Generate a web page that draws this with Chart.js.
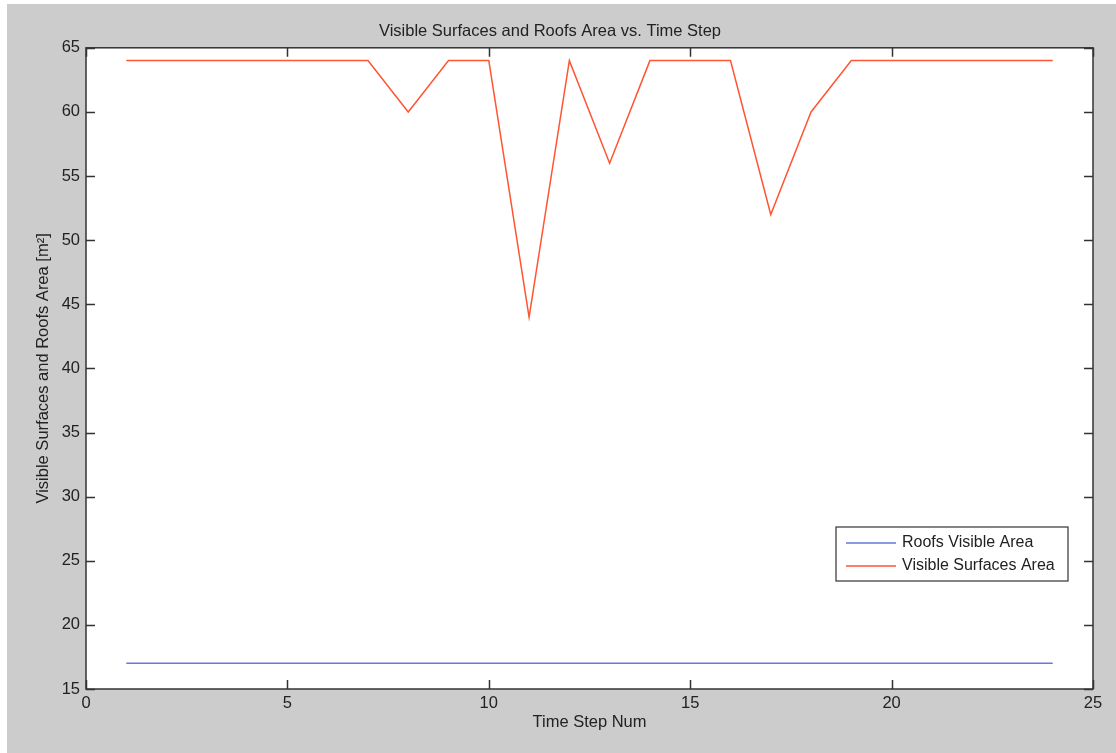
<!DOCTYPE html>
<html>
<head>
<meta charset="utf-8">
<script src="https://cdn.jsdelivr.net/npm/chart.js@4.4.0/dist/chart.umd.min.js"></script>
<style>
  html, body { margin: 0; padding: 0; background: #fff; }
  #wrap { position: absolute; left: 7px; top: 4px; width: 1109px; height: 749px; background: #cccccc; }
</style>
</head>
<body>
<div id="wrap"><canvas id="myChart" width="1109" height="749"></canvas></div>
<script>
// time steps and the two series
const timeSteps = [1, 2, 3, 4, 5, 6, 7, 8, 9, 10, 11, 12, 13, 14, 15, 16, 17, 18, 19, 20, 21, 22, 23, 24];
const roofsArea = [17, 17, 17, 17, 17, 17, 17, 17, 17, 17, 17, 17, 17, 17, 17, 17, 17, 17, 17, 17, 17, 17, 17, 17];
const surfacesArea = [64, 64, 64, 64, 64, 64, 64, 60, 64, 64, 44, 64, 56, 64, 64, 64, 52, 60, 64, 64, 64, 64, 64, 64];
const xTicks = [0, 5, 10, 15, 20, 25];
const yTicks = [15, 20, 25, 30, 35, 40, 45, 50, 55, 60, 65];

const FONT = '"Liberation Sans", Arial, sans-serif';
const FS = 16.5;
const ctx = document.getElementById('myChart');

// white plot box, inward ticks on all four sides, legend inside the plot
const matlabAxes = {
  id: 'matlabAxes',
  beforeDraw(chart) {
    const a = chart.chartArea, c = chart.ctx;
    c.save();
    c.fillStyle = '#ffffff';
    c.fillRect(a.left, a.top, a.right - a.left, a.bottom - a.top);
    c.restore();
  },
  afterDraw(chart) {
    const a = chart.chartArea, c = chart.ctx;
    const xs = chart.scales.x, ys = chart.scales.y;
    const len = 9;
    c.save();
    c.strokeStyle = '#333333';
    c.lineWidth = 1.5;
    c.strokeRect(a.left, a.top, a.right - a.left, a.bottom - a.top);
    c.beginPath();
    xTicks.forEach(v => {
      const px = Math.round(xs.getPixelForValue(v)) + 0.5;
      c.moveTo(px, a.bottom); c.lineTo(px, a.bottom - len);
      c.moveTo(px, a.top); c.lineTo(px, a.top + len);
    });
    yTicks.forEach(v => {
      const py = Math.round(ys.getPixelForValue(v)) + 0.5;
      c.moveTo(a.left, py); c.lineTo(a.left + len, py);
      c.moveTo(a.right, py); c.lineTo(a.right - len, py);
    });
    c.stroke();

    // legend box
    const bw = 232, bh = 54;
    const bx = a.right - 25 - bw, by = a.bottom - 108 - bh;
    c.fillStyle = '#ffffff';
    c.fillRect(bx, by, bw, bh);
    c.lineWidth = 1.2;
    c.strokeRect(bx, by, bw, bh);
    c.font = '16px ' + FONT;
    c.textBaseline = 'middle';
    chart.data.datasets.forEach((ds, i) => {
      const ly = by + 16 + i * 23;
      c.strokeStyle = ds.borderColor;
      c.lineWidth = 1.5;
      c.beginPath();
      c.moveTo(bx + 10, ly); c.lineTo(bx + 60, ly);
      c.stroke();
      c.fillStyle = '#222222';
      c.fillText(ds.label, bx + 66, ly);
    });
    c.restore();
  }
};

new Chart(ctx, {
  type: 'line',
  data: {
    datasets: [{
      label: 'Roofs Visible Area',
      data: timeSteps.map((t, i) => ({ x: t, y: roofsArea[i] })),
      borderColor: '#6677dd',
      borderWidth: 1.5,
      pointRadius: 0,
      tension: 0
    }, {
      label: 'Visible Surfaces Area',
      data: timeSteps.map((t, i) => ({ x: t, y: surfacesArea[i] })),
      borderColor: '#ff5533',
      borderWidth: 1.5,
      pointRadius: 0,
      tension: 0
    }]
  },
  options: {
    responsive: false,
    animation: false,
    layout: { padding: { left: 0, right: 23, top: 0, bottom: 0 } },
    plugins: {
      legend: { display: false },
      tooltip: { enabled: false },
      title: {
        display: true,
        text: 'Visible Surfaces and Roofs Area vs. Time Step',
        color: '#222222',
        font: { family: FONT, size: FS, weight: 'normal' },
        padding: { top: 18, bottom: 6 }
      }
    },
    scales: {
      x: {
        type: 'linear',
        min: 0, max: 25,
        afterBuildTicks: s => { s.ticks = xTicks.map(v => ({ value: v })); },
        afterFit: s => { s.height = 64; },
        grid: { display: false, drawTicks: false },
        border: { display: false },
        ticks: { color: '#222222', padding: 5, font: { family: FONT, size: FS } },
        title: {
          display: true, text: 'Time Step Num', color: '#222222',
          font: { family: FONT, size: FS }, padding: { top: 0, bottom: 21 }
        }
      },
      y: {
        type: 'linear',
        min: 15, max: 65,
        afterBuildTicks: s => { s.ticks = yTicks.map(v => ({ value: v })); },
        afterFit: s => { s.width = 79; },
        grid: { display: false, drawTicks: false },
        border: { display: false },
        ticks: { color: '#222222', padding: 6, font: { family: FONT, size: FS } },
        title: {
          display: true, text: 'Visible Surfaces and Roofs Area [m\u00B2]', color: '#222222',
          font: { family: FONT, size: FS }, padding: { top: 27, bottom: 0 }
        }
      }
    }
  },
  plugins: [matlabAxes]
});
</script>
</body>
</html>
